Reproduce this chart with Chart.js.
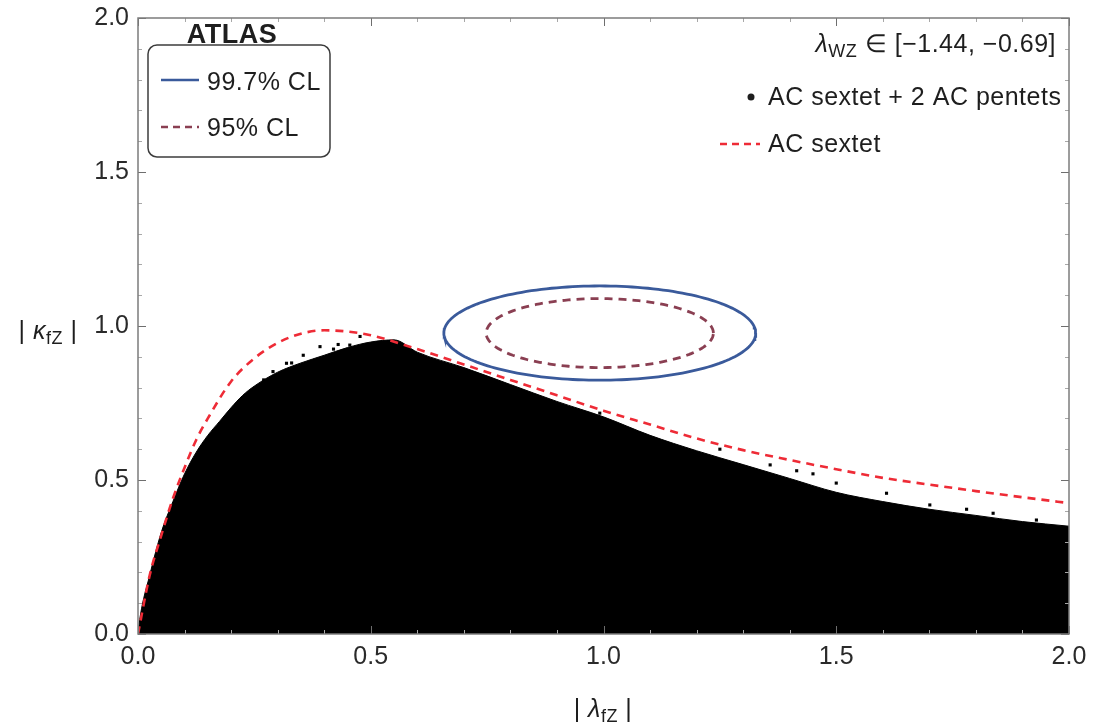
<!DOCTYPE html>
<html>
<head>
<meta charset="utf-8">
<script src="https://cdn.jsdelivr.net/npm/chart.js@4/dist/chart.umd.min.js"></script>
<style>
  html, body { margin: 0; padding: 0; background: #fff; }
  #wrap { width: 1101px; height: 728px; }
</style>
</head>
<body>
<div id="wrap"><canvas id="chart" width="1101" height="728"></canvas></div>
<script>
// Axis ticks
const tickValues = [0, 0.5, 1.0, 1.5, 2.0];
const tickLabels = ['0.0', '0.5', '1.0', '1.5', '2.0'];
const minorStep = 0.1;

// Upper edge of the "AC sextet + 2 AC pentets" scan region
const scanX = [0, 0.005, 0.025, 0.05, 0.075, 0.1, 0.125, 0.15, 0.175, 0.2, 0.225, 0.25, 0.3, 0.35, 0.4, 0.45, 0.5, 0.55, 0.6, 0.7, 0.8, 0.9, 1.0, 1.1, 1.2, 1.3, 1.4, 1.5, 1.6, 1.7, 1.8, 1.9, 2.0];
const scanY = [0, 0.06, 0.19, 0.33, 0.43, 0.52, 0.59, 0.645, 0.69, 0.735, 0.775, 0.805, 0.85, 0.88, 0.905, 0.93, 0.948, 0.955, 0.915, 0.865, 0.81, 0.755, 0.705, 0.645, 0.595, 0.55, 0.505, 0.46, 0.43, 0.405, 0.385, 0.365, 0.35];

// Isolated scan points along the ragged edge
const strayX = [0.133, 0.19, 0.226, 0.27, 0.29, 0.319, 0.33, 0.355, 0.391, 0.42, 0.43, 0.455, 0.477,
    0.992, 1.25, 1.358, 1.415, 1.45, 1.5, 1.608, 1.701, 1.78, 1.837, 1.93];
const strayY = [0.576, 0.695, 0.765, 0.825, 0.852, 0.879, 0.88, 0.905, 0.933, 0.925, 0.94, 0.938, 0.966,
    0.717, 0.6, 0.549, 0.53, 0.52, 0.49, 0.457, 0.419, 0.405, 0.392, 0.37];

// AC sextet boundary
const sextetX = [0, 0.025, 0.05, 0.075, 0.1, 0.125, 0.15, 0.2, 0.25, 0.3, 0.35, 0.4, 0.45, 0.5, 0.6, 0.7, 0.8, 0.9, 1.0, 1.1, 1.2, 1.3, 1.4, 1.5, 1.6, 1.7, 1.8, 1.9, 2.0];
const sextetY = [0, 0.19, 0.32, 0.44, 0.54, 0.63, 0.70, 0.82, 0.895, 0.945, 0.975, 0.986, 0.982, 0.97, 0.925, 0.875, 0.825, 0.775, 0.725, 0.68, 0.635, 0.597, 0.565, 0.535, 0.507, 0.485, 0.464, 0.444, 0.425];

// Confidence-level contours: centre and semi-axes
const clCenter = [0.992, 0.977];
const cl997Radii = [0.335, 0.153];
const cl95Radii = [0.244, 0.112];

function toPoints(xs, ys) {
    return xs.map((x, i) => ({ x: x, y: ys[i] }));
}

function ellipse(center, radii) {
    const pts = [];
    for (let i = 0; i <= 180; i++) {
        const t = (i / 180) * 2 * Math.PI;
        pts.push({ x: center[0] + radii[0] * Math.cos(t), y: center[1] + radii[1] * Math.sin(t) });
    }
    return pts;
}

const FONT = '"Liberation Sans", Arial, Helvetica, sans-serif';
const BLUE = '#3a5a9b';
const BROWN = '#8a3f52';
const RED = '#ee2b36';

// draw a run of text pieces, each with its own font and vertical shift
function richText(ctx, parts, x, y, align) {
    let total = 0;
    parts.forEach(p => { ctx.font = p.font; total += ctx.measureText(p.text).width; });
    let cx = align === 'right' ? x - total : align === 'center' ? x - total / 2 : x;
    parts.forEach(p => {
        ctx.font = p.font;
        ctx.fillText(p.text, cx, y + (p.dy || 0));
        cx += ctx.measureText(p.text).width;
    });
}

const frameAndText = {
    id: 'frameAndText',
    afterDatasetsDraw(chart) {
        const { ctx, chartArea: a, scales: { x, y } } = chart;
        ctx.save();

        // inward ticks on all four sides
        const n = Math.round((x.max - x.min) / minorStep);
        for (let i = 0; i <= n; i++) {
            const v = x.min + i * minorStep;
            const major = tickValues.some(t => Math.abs(t - v) < 1e-6);
            const len = major ? 8 : 4;
            ctx.strokeStyle = major ? '#6e6e6e' : '#a8a8a8';
            ctx.lineWidth = 1;
            const px = Math.round(x.getPixelForValue(v)) + 0.5;
            const py = Math.round(y.getPixelForValue(v)) + 0.5;
            ctx.beginPath();
            ctx.moveTo(px, a.bottom); ctx.lineTo(px, a.bottom - len);
            ctx.moveTo(px, a.top); ctx.lineTo(px, a.top + len);
            ctx.moveTo(a.left, py); ctx.lineTo(a.left + len, py);
            ctx.moveTo(a.right, py); ctx.lineTo(a.right - len, py);
            ctx.stroke();
        }

        // frame
        ctx.strokeStyle = '#7c7c7c';
        ctx.lineWidth = 1.5;
        ctx.strokeRect(a.left, a.top, a.right - a.left, a.bottom - a.top);

        ctx.fillStyle = '#1e1e1e';
        ctx.textBaseline = 'alphabetic';
        ctx.letterSpacing = '0.5px';

        // axis titles
        richText(ctx, [
            { text: '| ', font: '25px ' + FONT },
            { text: 'κ', font: 'italic 25px ' + FONT },
            { text: 'fZ', font: '18px ' + FONT, dy: 5 },
            { text: ' |', font: '25px ' + FONT }
        ], 48, 339, 'center');
        richText(ctx, [
            { text: '| ', font: '25px ' + FONT },
            { text: 'λ', font: 'italic 25px ' + FONT },
            { text: 'fZ', font: '18px ' + FONT, dy: 5 },
            { text: ' |', font: '25px ' + FONT }
        ], 603, 717, 'center');

        // ATLAS label
        ctx.font = 'bold 27px ' + FONT;
        ctx.textAlign = 'center';
        ctx.fillText('ATLAS', 232, 43);
        ctx.textAlign = 'left';

        // CL legend box
        const bx = 148, by = 45, bw = 182, bh = 112, r = 9;
        ctx.fillStyle = '#ffffff';
        ctx.strokeStyle = '#3c3c3c';
        ctx.lineWidth = 1.5;
        ctx.beginPath();
        ctx.roundRect(bx, by, bw, bh, r);
        ctx.fill();
        ctx.stroke();

        ctx.lineWidth = 2.5;
        ctx.strokeStyle = BLUE;
        ctx.beginPath(); ctx.moveTo(161, 80); ctx.lineTo(199, 80); ctx.stroke();
        ctx.strokeStyle = BROWN;
        ctx.setLineDash([7, 5]);
        ctx.beginPath(); ctx.moveTo(161, 127); ctx.lineTo(199, 127); ctx.stroke();
        ctx.setLineDash([]);

        ctx.fillStyle = '#1e1e1e';
        ctx.font = '25px ' + FONT;
        ctx.fillText('99.7% CL', 207, 90);
        ctx.fillText('95% CL', 207, 136);

        // top-right annotations
        richText(ctx, [
            { text: 'λ', font: 'italic 25px ' + FONT },
            { text: 'WZ', font: '18px ' + FONT, dy: 5 },
            { text: ' ∈ [−1.44, −0.69]', font: '25px ' + FONT }
        ], 1056, 52, 'right');

        ctx.beginPath();
        ctx.arc(751, 97, 3.5, 0, 2 * Math.PI);
        ctx.fill();
        ctx.font = '25px ' + FONT;
        ctx.fillText('AC sextet + 2 AC pentets', 768, 105);

        ctx.strokeStyle = RED;
        ctx.lineWidth = 2.5;
        ctx.setLineDash([7, 5]);
        ctx.beginPath(); ctx.moveTo(720, 144); ctx.lineTo(760, 144); ctx.stroke();
        ctx.setLineDash([]);
        ctx.fillText('AC sextet', 768, 152);

        ctx.restore();
    }
};

const ctx = document.getElementById('chart').getContext('2d');
new Chart(ctx, {
    type: 'scatter',
    data: {
        datasets: [
            {
                label: '99.7% CL',
                data: ellipse(clCenter, cl997Radii),
                showLine: true,
                borderColor: BLUE,
                borderWidth: 2.8,
                pointRadius: 0,
                order: 1
            },
            {
                label: '95% CL',
                data: ellipse(clCenter, cl95Radii),
                showLine: true,
                borderColor: BROWN,
                borderWidth: 2.8,
                borderDash: [8, 6],
                pointRadius: 0,
                order: 2
            },
            {
                label: 'AC sextet',
                data: toPoints(sextetX, sextetY),
                showLine: true,
                borderColor: RED,
                borderWidth: 2.6,
                borderDash: [8, 6],
                cubicInterpolationMode: 'monotone',
                pointRadius: 0,
                order: 3
            },
            {
                label: 'stray',
                data: toPoints(strayX, strayY),
                pointStyle: 'rect',
                pointRadius: 2.2,
                backgroundColor: '#000',
                borderWidth: 0,
                order: 4
            },
            {
                label: 'AC sextet + 2 AC pentets',
                data: toPoints(scanX, scanY),
                showLine: true,
                fill: 'origin',
                backgroundColor: '#000',
                borderColor: '#000',
                borderWidth: 1,
                cubicInterpolationMode: 'monotone',
                pointRadius: 0,
                order: 5
            }
        ]
    },
    options: {
        responsive: false,
        animation: false,
        layout: { padding: { left: 0, right: 32, top: 18, bottom: 0 } },
        plugins: {
            legend: { display: false },
            tooltip: { enabled: false }
        },
        scales: {
            x: {
                type: 'linear',
                min: 0,
                max: 2,
                afterBuildTicks: s => { s.ticks = tickValues.map(v => ({ value: v })); },
                afterFit: s => { s.height = 94; s.paddingLeft = 0; s.paddingRight = 0; },
                grid: { display: false, drawTicks: false },
                border: { display: false },
                ticks: {
                    padding: 8,
                    maxRotation: 0,
                    color: '#2a2a2a',
                    font: { family: FONT, size: 25 },
                    callback: (v, i) => tickLabels[i]
                }
            },
            y: {
                type: 'linear',
                min: 0,
                max: 2,
                afterBuildTicks: s => { s.ticks = tickValues.map(v => ({ value: v })); },
                afterFit: s => { s.width = 138; s.paddingTop = 0; s.paddingBottom = 0; },
                grid: { display: false, drawTicks: false },
                border: { display: false },
                ticks: {
                    padding: 9,
                    color: '#2a2a2a',
                    font: { family: FONT, size: 25 },
                    callback: (v, i) => tickLabels[i]
                }
            }
        }
    },
    plugins: [frameAndText]
});
</script>
</body>
</html>
